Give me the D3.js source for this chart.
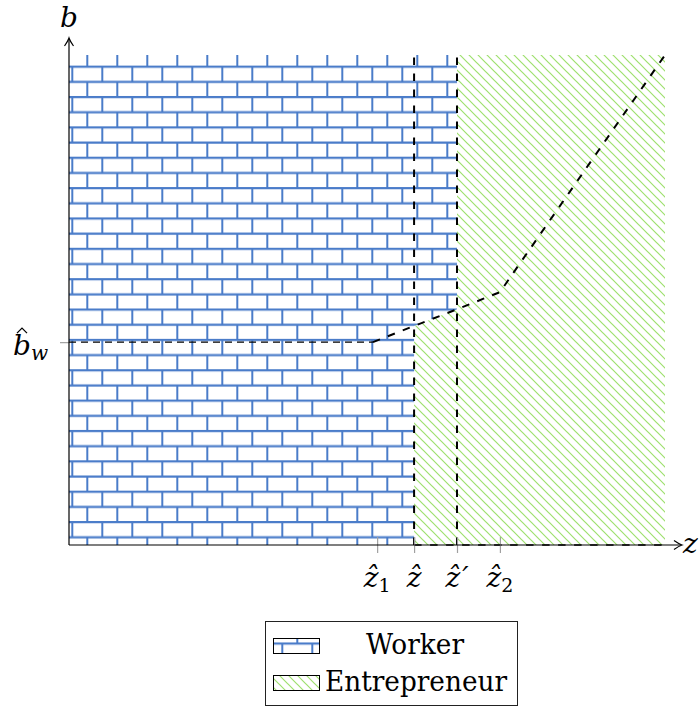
<!DOCTYPE html>
<html>
<head>
<meta charset="utf-8">
<script src="https://cdn.jsdelivr.net/npm/d3@7"></script>
<style>
body { margin: 0; background: #fff; }
</style>
</head>
<body>
<svg></svg>
<script>
// ticks on the z axis
const zTicks = [0.517, 0.579, 0.651, 0.723];
const zNames = ["ẑ", "ẑ", "ẑ", "ẑ"];
const zSubs = ["1", "", "′", "2"];
// level of b-hat_w and the two cut-offs
const bHatW = 0.414;
const zHat = 0.579, zHatP = 0.651;
// dashed threshold curve
const curveZ = [0.51, 0.579, 0.651, 0.723, 1.0];
const curveB = [0.414, 0.447, 0.481, 0.516, 1.0];
const legendNames = ["Worker", "Entrepreneur"];

let width = 699, height = 709;
let serif = "DejaVu Serif";
let svg = d3.select("svg").attr("width", width).attr("height", height)
  .attr("font-family", serif);

let x = d3.scaleLinear().domain([0, 1]).range([69, 665]);
let y = d3.scaleLinear().domain([0, 1]).range([545, 55]);

let defs = svg.append("defs");

// bricks, anchored to the page like the tikz pattern
let bw = 30, bh = 15.18, bx = 72.3, by = 66.7, pad = 5;
let brick = defs.append("pattern")
  .attr("id", "bricks")
  .attr("patternUnits", "userSpaceOnUse")
  .attr("x", bx - pad).attr("y", by - pad)
  .attr("width", bw).attr("height", 2 * bh);
let bpath = [
  `M0,${pad}H${bw}`,
  `M0,${pad + bh}H${bw}`,
  `M${pad},${pad}V${pad + bh}`,
  `M${pad + bw / 2},${pad + bh}V${2 * bh}`,
  `M${pad + bw / 2},0V${pad}`
].join("");
brick.append("path").attr("d", bpath)
  .attr("stroke", "#4a7cc9").attr("stroke-width", 2).attr("fill", "none");

// north west lines
let hs = 9;
let hatch = defs.append("pattern")
  .attr("id", "hatch")
  .attr("patternUnits", "userSpaceOnUse")
  .attr("width", hs).attr("height", hs);
hatch.append("path")
  .attr("d", `M0,0L${hs},${hs}M${-1},${hs - 1}L1,${hs + 1}M${hs - 1},-1L${hs + 1},1`)
  .attr("stroke", "#9ee06e").attr("stroke-width", 1.2).attr("fill", "none");

let poly = d3.line().x(d => x(d[0])).y(d => y(d[1]));

let worker = [[0, 0], [zHat, 0], [zHat, curveB[1]], [zHatP, curveB[2]], [zHatP, 1], [0, 1]];
let entre = [[zHat, 0], [1, 0], [1, 1], [zHatP, 1], [zHatP, curveB[2]], [zHat, curveB[1]]];

svg.append("path").datum(entre).attr("d", d => poly(d) + "Z").attr("fill", "url(#hatch)");
svg.append("path").datum(worker).attr("d", d => poly(d) + "Z").attr("fill", "url(#bricks)");

// dashed guides
let dash = "7.5,8.5";
svg.append("line")
  .attr("x1", x(0)).attr("x2", x(curveZ[0]))
  .attr("y1", y(bHatW)).attr("y2", y(bHatW))
  .attr("stroke", "#000").attr("stroke-width", 1.2).attr("stroke-dasharray", "7,5");

svg.selectAll(".vcut").data([zHat, zHatP]).join("line")
  .attr("x1", d => x(d)).attr("x2", d => x(d))
  .attr("y1", y(0)).attr("y2", y(1))
  .attr("stroke", "#000").attr("stroke-width", 2).attr("stroke-dasharray", dash);

svg.append("line")
  .attr("x1", x(zHat)).attr("x2", x(1))
  .attr("y1", y(0)).attr("y2", y(0))
  .attr("stroke", "#000").attr("stroke-width", 1.6).attr("stroke-dasharray", dash);

svg.append("path")
  .datum(curveZ.map((z, i) => [z, curveB[i]]))
  .attr("d", poly)
  .attr("fill", "none").attr("stroke", "#000").attr("stroke-width", 2)
  .attr("stroke-dasharray", dash);

// ticks
let xAxis = svg.append("g").attr("transform", `translate(0,${y(0)})`)
  .call(d3.axisBottom(x).tickValues(zTicks).tickSize(8).tickFormat(""));
xAxis.select(".domain").remove();
xAxis.selectAll(".tick line").attr("y1", -8).attr("stroke", "#a0a0a0").attr("stroke-width", 1.2);

let yAxis = svg.append("g").attr("transform", `translate(${x(0)},0)`)
  .call(d3.axisLeft(y).tickValues([bHatW]).tickSize(9).tickFormat(""));
yAxis.select(".domain").remove();
yAxis.selectAll(".tick line").attr("stroke", "#a0a0a0").attr("stroke-width", 1.2);

// axis lines with arrow heads
let ax0 = x(0), ay0 = y(0);
svg.append("line").attr("x1", ax0).attr("x2", 681).attr("y1", ay0).attr("y2", ay0)
  .attr("stroke", "#000").attr("stroke-width", 1.2);
svg.append("line").attr("x1", ax0).attr("x2", ax0).attr("y1", ay0).attr("y2", 39)
  .attr("stroke", "#000").attr("stroke-width", 1.2);
svg.append("path")
  .attr("d", `M674,${ay0 - 4.5}Q679,${ay0 - 1} 682,${ay0}Q679,${ay0 + 1} 674,${ay0 + 4.5}`)
  .attr("fill", "none").attr("stroke", "#000").attr("stroke-width", 1.2);
svg.append("path")
  .attr("d", `M${ax0 - 4.5},46Q${ax0 - 1},41 ${ax0},38Q${ax0 + 1},41 ${ax0 + 4.5},46`)
  .attr("fill", "none").attr("stroke", "#000").attr("stroke-width", 1.2);

let mathText = sel => sel.attr("font-family", serif).attr("font-size", 28).attr("font-style", "italic");

svg.append("text").attr("x", ax0).attr("y", 27).attr("text-anchor", "middle")
  .call(mathText).text("b");
svg.append("text").attr("x", 683).attr("y", 553)
  .call(mathText).text("z");

// tick labels
svg.selectAll(".zlab").data(zTicks).join("text")
  .attr("class", "zlab")
  .attr("x", d => x(d)).attr("y", 587).attr("text-anchor", "middle")
  .call(mathText)
  .each(function(d, i) {
    let t = d3.select(this);
    t.append("tspan").text(zNames[i]);
    if (zSubs[i] === "′") t.append("tspan").attr("dx", 2).text(zSubs[i]);
    else if (zSubs[i]) t.append("tspan").attr("dy", 5).attr("font-size", 19)
      .attr("font-style", "normal").text(zSubs[i]);
  });

let bl = svg.append("text").attr("x", 48).attr("y", y(bHatW) + 13).attr("text-anchor", "end")
  .call(mathText);
bl.append("tspan").text("b");
bl.append("tspan").attr("dy", 5).attr("font-size", 20).text("w");
svg.append("path")
  .attr("d", `M17,${y(bHatW) - 9}L22,${y(bHatW) - 14}L27,${y(bHatW) - 9}`)
  .attr("fill", "none").attr("stroke", "#000").attr("stroke-width", 1.3);

// legend
let lg = svg.append("g");
lg.append("rect").attr("x", 265.5).attr("y", 621.5).attr("width", 252).attr("height", 84)
  .attr("fill", "#fff").attr("stroke", "#222").attr("stroke-width", 1);
let fills = ["url(#bricks)", "url(#hatch)"];
lg.selectAll(".sw").data(legendNames).join("rect")
  .attr("x", 273.5).attr("y", (d, i) => 638.5 + i * 37).attr("width", 46).attr("height", 15)
  .attr("fill", (d, i) => fills[i]).attr("stroke", "#000").attr("stroke-width", 1);
lg.selectAll(".lt").data(legendNames).join("text")
  .attr("x", (d, i) => i ? 325 : 415).attr("y", (d, i) => 654 + i * 37)
  .attr("text-anchor", (d, i) => i ? "start" : "middle")
  .attr("font-family", serif).attr("font-size", 27)
  .attr("textLength", (d, i) => i ? 182 : 98).attr("lengthAdjust", "spacingAndGlyphs")
  .text(d => d);
</script>
</body>
</html>
